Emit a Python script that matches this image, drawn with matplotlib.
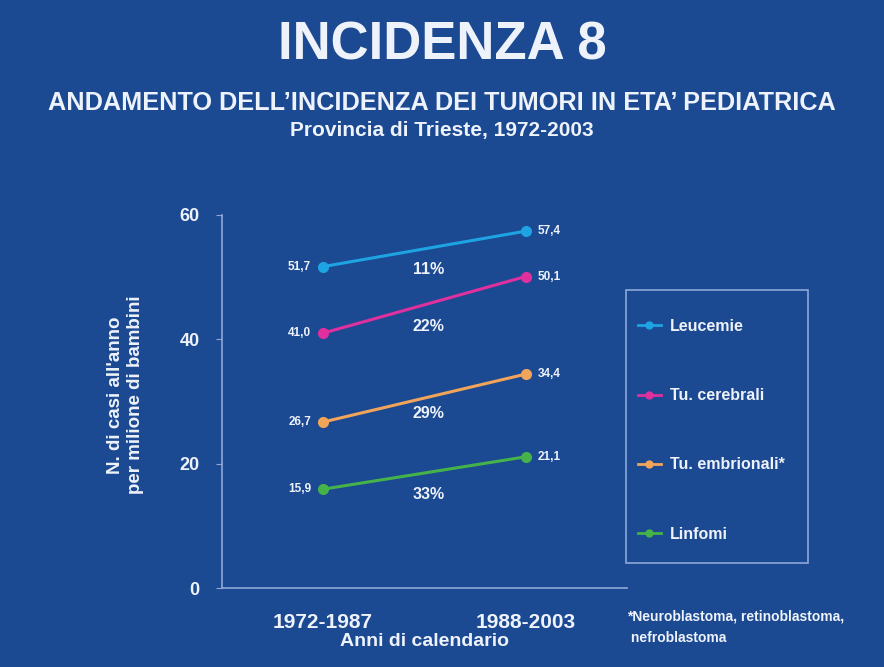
import matplotlib
matplotlib.use('Agg')
import matplotlib.pyplot as plt
from matplotlib.lines import Line2D
from matplotlib.patches import Rectangle

periods = ['1972-1987', '1988-2003']
series = ['Leucemie', 'Tu. cerebrali', 'Tu. embrionali*', 'Linfomi']
values = [
    [51.7, 57.4],
    [41.0, 50.1],
    [26.7, 34.4],
    [15.9, 21.1],
]
value_labels = [['51,7', '57,4'], ['41,0', '50,1'], ['26,7', '34,4'], ['15,9', '21,1']]
pct_labels = ['11%', '22%', '29%', '33%']
pct_y = [51.2, 42.0, 28.0, 15.0]
colors = ['#1ea3e3', '#e0309e', '#f2a55a', '#45b34a']

BG = '#1b4992'
FG = '#eef2fa'
AXC = '#8fa8d8'
plt.rcParams['font.family'] = ['Liberation Sans', 'DejaVu Sans']

fig = plt.figure(figsize=(8.84, 6.67), dpi=100, facecolor=BG)
ax = fig.add_axes([0.251, 0.1184, 0.458, 0.5593], facecolor=BG)

x = [0, 1]
for vals, labs, c in zip(values, value_labels, colors):
    ax.plot(x, vals, '-o', color=c, lw=2.2, ms=7, mec=c)
    ax.text(x[0] - 0.06, vals[0], labs[0], color=FG, fontsize=8.5, fontweight='bold',
            ha='right', va='center')
    ax.text(x[1] + 0.06, vals[1], labs[1], color=FG, fontsize=8.5, fontweight='bold',
            ha='left', va='center')
for p, yy in zip(pct_labels, pct_y):
    ax.text(0.52, yy, p, color=FG, fontsize=11.5, fontweight='bold', ha='center',
            va='center')

ax.set_xlim(-0.5, 1.5)
ax.set_ylim(0, 60)
ax.set_yticks([0, 20, 40, 60])
ax.set_xticks(x)
ax.set_xticklabels(periods)
ax.tick_params(axis='y', colors=AXC, labelcolor=FG, length=4, labelsize=13, pad=12)
ax.tick_params(axis='x', length=0, labelcolor=FG, labelsize=15, pad=18)
for t in ax.get_xticklabels() + ax.get_yticklabels():
    t.set_fontweight('bold')
for s in ['top', 'right']:
    ax.spines[s].set_visible(False)
for s in ['left', 'bottom']:
    ax.spines[s].set_color(AXC)
    ax.spines[s].set_linewidth(1.2)
ax.set_xlabel('Anni di calendario', color=FG, fontsize=14, fontweight='bold', labelpad=1)

fig.text(0.142, 0.408, "N. di casi all'anno\nper milione di bambini", color=FG,
         fontsize=13.5, fontweight='bold', rotation=90, ha='center', va='center',
         linespacing=1.3)

# legend box drawn separately (wide vertical padding, narrow horizontal)
fig.patches.append(Rectangle((0.708, 0.156), 0.206, 0.409, transform=fig.transFigure,
                             fill=False, edgecolor=AXC, lw=1.2))
handles = [Line2D([0], [0], color=c, lw=2, marker='o', ms=5) for c in colors]
leg = fig.legend(handles, series, loc='upper left', bbox_to_anchor=(0.722, 0.522),
                 frameon=False, labelspacing=3.4, handlelength=1.4,
                 handletextpad=0.6, borderpad=0, borderaxespad=0,
                 prop={'weight': 'bold', 'size': 11.5})
for t in leg.get_texts():
    t.set_color(FG)

fig.text(0.5, 0.932, 'INCIDENZA 8', color=FG, fontsize=38, fontweight='bold',
         ha='center', va='center')
fig.text(0.5, 0.845, "ANDAMENTO DELL\u2019INCIDENZA DEI TUMORI IN ETA\u2019 PEDIATRICA",
         color=FG, fontsize=18.2, fontweight='bold', ha='center', va='center')
fig.text(0.5, 0.805, 'Provincia di Trieste, 1972-2003', color=FG, fontsize=15,
         fontweight='bold', ha='center', va='center')
fig.text(0.709, 0.086, '*Neuroblastoma, retinoblastoma,\n nefroblastoma', color=FG,
         fontsize=10, fontweight='bold', ha='left', va='top', linespacing=1.7)

fig.savefig('out.png', dpi=100, facecolor=BG)
